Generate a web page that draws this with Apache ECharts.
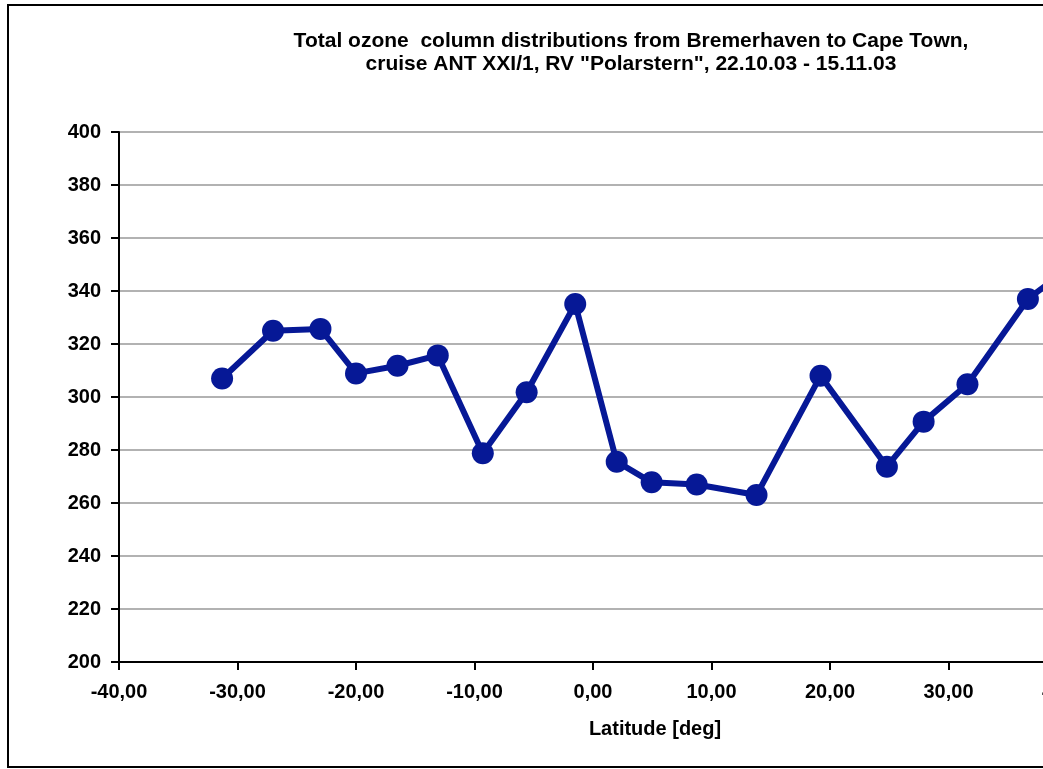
<!DOCTYPE html>
<html>
<head>
<meta charset="utf-8">
<script src="https://cdn.jsdelivr.net/npm/echarts@6/dist/echarts.min.js"></script>
<style>
  html, body { margin: 0; padding: 0; background: #fff; overflow: hidden; }
  /* the original picture is cropped on the right, so the chart is drawn wider than the window */
  #chart { width: 1100px; height: 769px; }
</style>
</head>
<body>
<div id="chart"></div>
<script>
// latitude [deg] and total ozone column [DU]
const latitude = [-31.3, -27.0, -23.0, -20.0, -16.5, -13.1, -9.3, -5.6, -1.5, 2.0, 4.95, 8.75, 13.8, 19.2, 24.8, 27.9, 31.6, 36.7, 41.2];
const ozone = [307, 325, 325.7, 308.9, 311.8, 315.7, 278.8, 301.8, 335.1, 275.6, 267.8, 267.0, 263.0, 308.0, 273.7, 290.7, 304.8, 337.0, 352];
const titleLines = ['Total ozone  column distributions from Bremerhaven to Cape Town,', 'cruise ANT XXI/1, RV "Polarstern", 22.10.03 - 15.11.03'];
const xAxisName = 'Latitude [deg]';

const lineColor = '#061896';
const fontFamily = '"Liberation Sans", Arial, sans-serif';

let myChart = echarts.init(document.getElementById('chart'));

let points = latitude.map((x, i) => [x, ozone[i]]);

let option = {
  animation: false,
  backgroundColor: '#fff',
  title: [
    {
      text: titleLines.join('\n'),
      left: 626,
      top: 25,
      textAlign: 'center',
      textStyle: { fontFamily: fontFamily, fontSize: 21, fontWeight: 'bold', color: '#000', lineHeight: 23 }
    },
    {
      text: xAxisName,
      left: 650,
      top: 714,
      textAlign: 'center',
      textStyle: { fontFamily: fontFamily, fontSize: 20, fontWeight: 'bold', color: '#000' }
    }
  ],
  graphic: [
    {
      type: 'rect',
      shape: { x: 8, y: 5, width: 1150, height: 762 },
      style: { fill: 'none', stroke: '#000', lineWidth: 2 },
      z: 100
    }
  ],
  grid: { left: 119, right: 33, top: 132, bottom: 107 },
  xAxis: {
    type: 'value',
    min: -40,
    max: 40,
    interval: 10,
    axisLine: { show: true, onZero: false, lineStyle: { color: '#000', width: 2 } },
    axisTick: { show: true, length: 8, lineStyle: { color: '#000', width: 2 } },
    splitLine: { show: false },
    axisLabel: {
      margin: 20,
      fontFamily: fontFamily, fontSize: 20, fontWeight: 'bold', color: '#000',
      formatter: v => v.toFixed(2).replace('.', ',')
    }
  },
  yAxis: {
    type: 'value',
    min: 200,
    max: 400,
    interval: 20,
    axisLine: { show: true, onZero: false, lineStyle: { color: '#000', width: 2 } },
    axisTick: { show: true, length: 8, lineStyle: { color: '#000', width: 2 } },
    splitLine: { show: true, lineStyle: { color: '#999', width: 1.5 } },
    axisLabel: {
      margin: 18,
      fontFamily: fontFamily, fontSize: 20, fontWeight: 'bold', color: '#000'
    }
  },
  series: [
    {
      type: 'line',
      data: points,
      symbol: 'circle',
      symbolSize: 22,
      lineStyle: { color: lineColor, width: 6 },
      itemStyle: { color: lineColor },
      clip: true
    }
  ]
};
myChart.setOption(option);
</script>
</body>
</html>
